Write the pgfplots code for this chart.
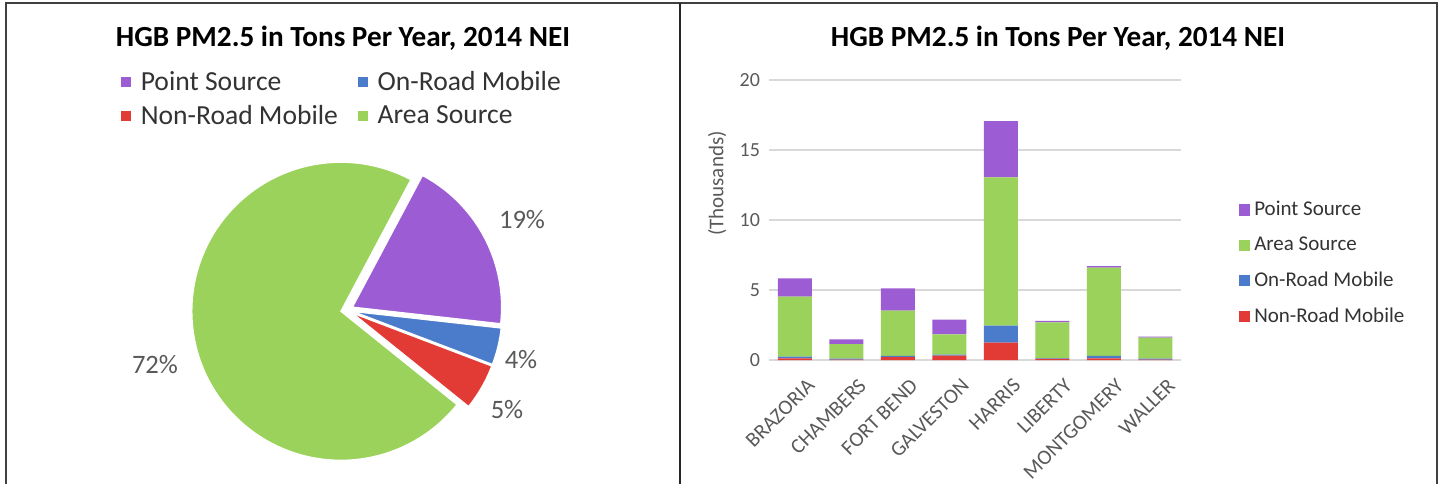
\documentclass[border=0pt]{standalone}
\usepackage{pgfplots}
\pgfplotsset{compat=1.18}
\usepackage{pgfplotstable}
\usepackage{fontspec}
\setmainfont{Carlito}
\definecolor{cPoint}{HTML}{9C5CD3}
\definecolor{cArea}{HTML}{9BD25B}
\definecolor{cOn}{HTML}{4A7CCB}
\definecolor{cNon}{HTML}{E23B36}
\definecolor{tgray}{HTML}{595959}
\definecolor{lgray}{HTML}{D9D9D9}

% stacked bars, thousands of tons
\pgfplotstableread{
idx nonroad onroad area point
0 0.12 0.12 4.28 1.31
1 0.03 0.07 1.04 0.34
2 0.20 0.09 3.23 1.60
3 0.32 0.06 1.45 1.05
4 1.24 1.21 10.60 4.02
5 0.08 0.04 2.57 0.10
6 0.12 0.17 6.31 0.11
7 0.03 0.06 1.51 0.07
}\bartable

% pie shares in percent
\def\pPoint{19}\def\pOn{4}\def\pNon{5}\def\pArea{72}
\def\expl{0.042}
\pgfmathsetmacro\aO{62}
\pgfmathsetmacro\aA{\aO-3.6*\pPoint}
\pgfmathsetmacro\aB{\aA-3.6*\pOn}
\pgfmathsetmacro\aC{\aB-3.6*\pNon}
\pgfmathsetmacro\aD{\aC-3.6*\pArea}
\pgfmathsetmacro\dxA{\expl*cos((\aO+\aA)/2)}\pgfmathsetmacro\dyA{\expl*sin((\aO+\aA)/2)}
\pgfmathsetmacro\dxB{\expl*cos((\aA+\aB)/2)}\pgfmathsetmacro\dyB{\expl*sin((\aA+\aB)/2)}
\pgfmathsetmacro\dxC{\expl*cos((\aB+\aC)/2)}\pgfmathsetmacro\dyC{\expl*sin((\aB+\aC)/2)}
\pgfmathsetmacro\dxD{\expl*cos((\aC+\aD)/2)}\pgfmathsetmacro\dyD{\expl*sin((\aC+\aD)/2)}

\begin{document}
\begin{tikzpicture}
\begin{scope}[x=0.5pt,y=0.5pt]
\path[use as bounding box] (0,0) rectangle (1440,484);
\draw[line width=1pt, color=black!75] (6,0) -- (6,481) -- (1437,481) -- (1437,0);
\draw[line width=1pt, color=black!85] (680,0) -- (680,481);

\node[font=\bfseries\fontsize{14.6}{16}\selectfont] at (343,446) {HGB PM2.5 in Tons Per Year, 2014 NEI};
\node[font=\bfseries\fontsize{14.6}{16}\selectfont] at (1058,446) {HGB PM2.5 in Tons Per Year, 2014 NEI};

\begin{scope}[every node/.style={font=\fontsize{13.3}{15}\selectfont, text=tgray}]
\node at (522,264) {19\%};
\node at (521,124) {4\%};
\node at (507,74) {5\%};
\node at (155,119) {72\%};
\end{scope}
\end{scope}

% ---------- pie ----------
\begin{axis}[at={(76.65pt,-9.85pt)}, anchor=south west, scale only axis,
  width=193.7pt, height=193.7pt, xmin=-1.3, xmax=1.3, ymin=-1.3, ymax=1.3,
  hide axis, clip=false,
  legend columns=2,
  legend image code/.code={\fill[#1,draw=none] (0pt,-2.5pt) rectangle (5pt,2.5pt); \path (7.5pt,0pt);},
  legend style={at={(-0.084,1.128)}, anchor=north west, draw=none, fill=none,
    font=\fontsize{13.8}{15}\selectfont, text=black!80, inner sep=0pt, row sep=2pt,
    /tikz/every even column/.append style={column sep=8pt}},
  legend cell align=left]
\addplot[fill=cPoint, draw=white, line width=0.6pt, domain=\aA:\aO, samples=80]
  ({\dxA+cos(x)},{\dyA+sin(x)}) -- (axis cs:\dxA,\dyA) -- cycle;
\addplot[fill=cOn, draw=white, line width=0.6pt, domain=\aB:\aA, samples=30]
  ({\dxB+cos(x)},{\dyB+sin(x)}) -- (axis cs:\dxB,\dyB) -- cycle;
\addplot[fill=cNon, draw=white, line width=0.6pt, domain=\aC:\aB, samples=30]
  ({\dxC+cos(x)},{\dyC+sin(x)}) -- (axis cs:\dxC,\dyC) -- cycle;
\addplot[fill=cArea, draw=white, line width=0.6pt, domain=\aD:\aC, samples=200]
  ({\dxD+cos(x)},{\dyD+sin(x)}) -- (axis cs:\dxD,\dyD) -- cycle;
\legend{Point Source, On-Road Mobile, Non-Road Mobile, Area Source}
\end{axis}

% ---------- bars ----------
\begin{axis}[at={(384.5pt,62pt)}, anchor=south west, scale only axis,
  width=206pt, height=140pt,
  ybar stacked, bar width=17pt,
  xmin=-0.5, xmax=7.5, ymin=0, ymax=20,
  ytick={0,5,10,15,20}, xtick={0,...,7},
  xticklabels={BRAZORIA,CHAMBERS,FORT BEND,GALVESTON,HARRIS,LIBERTY,MONTGOMERY,WALLER},
  ymajorgrids, grid style={lgray, line width=0.6pt},
  axis x line*=bottom, axis y line*=left,
  y axis line style={draw=none}, x axis line style={lgray, line width=0.6pt},
  major tick length=0pt, tick style={draw=none},
  /pgf/number format/assume math mode=true,
  ticklabel style={font=\fontsize{10}{11}\selectfont, text=tgray},
  xticklabel style={font=\fontsize{10.5}{12}\selectfont, rotate=45, anchor=north east, inner sep=1pt, yshift=-9pt, xshift=-1pt},
  yticklabel style={xshift=-1pt},
  ylabel={(Thousands)},
  ylabel style={font=\fontsize{10.5}{12}\selectfont, text=tgray, at={(axis description cs:-0.126,0.63)}, anchor=center},
  reverse legend,
  legend image code/.code={\fill[#1,draw=none] (0pt,-2.8pt) rectangle (5.6pt,2.8pt);},
  legend style={at={(1.14,0.345)}, anchor=west, draw=none, fill=none,
    font=\fontsize{10.5}{11}\selectfont, text=black!80, row sep=5.2pt, inner sep=0pt},
  legend cell align=left]
\addplot[fill=cNon, draw=none] table[x=idx, y=nonroad] {\bartable};
\addplot[fill=cOn, draw=none] table[x=idx, y=onroad] {\bartable};
\addplot[fill=cArea, draw=none] table[x=idx, y=area] {\bartable};
\addplot[fill=cPoint, draw=none] table[x=idx, y=point] {\bartable};
\legend{Non-Road Mobile, On-Road Mobile, Area Source, Point Source}
\end{axis}
\end{tikzpicture}
\end{document}
